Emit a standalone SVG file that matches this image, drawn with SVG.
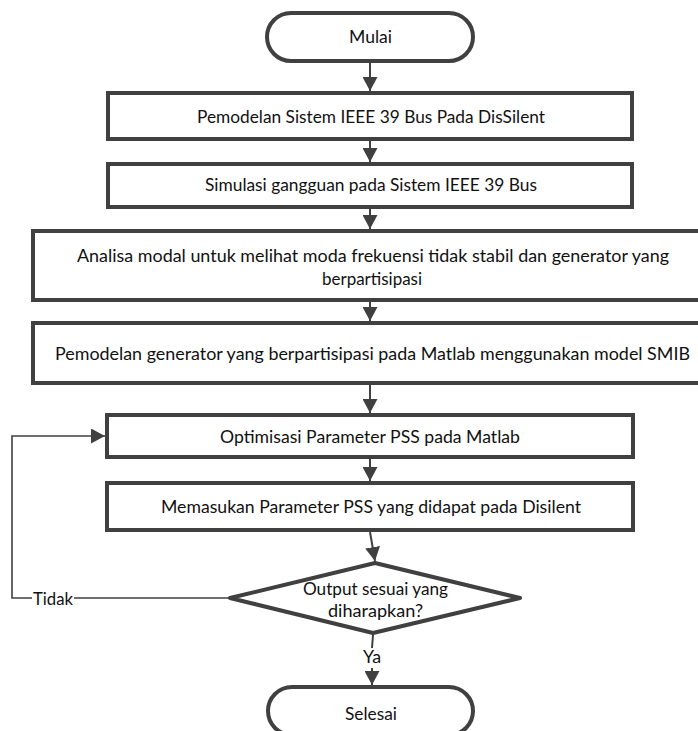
<svg xmlns="http://www.w3.org/2000/svg" width="698" height="731" viewBox="0 0 698 731">
<style>
.b{fill:#fff;stroke:#404040;stroke-width:4}
.t{font-family:Lato,"Liberation Sans",sans-serif;font-size:17px;fill:#111;text-anchor:middle}
.c{fill:none;stroke:#404040;stroke-width:2}
.l{fill:none;stroke:#404040;stroke-width:1.6}
</style>
<defs>
<marker id="a" markerUnits="userSpaceOnUse" markerWidth="14" markerHeight="15" viewBox="0 0 14 15" refX="14" refY="7.5" orient="auto">
<path d="M0,0 L14,7.5 L0,15 z" fill="#404040"/>
</marker>
</defs>
<rect width="698" height="731" fill="#fff"/>
<g id="connectors">
<line class="c" x1="370" y1="62" x2="370" y2="91" marker-end="url(#a)"/>
<line class="c" x1="370" y1="141" x2="370" y2="162" marker-end="url(#a)"/>
<line class="c" x1="370" y1="209" x2="370" y2="229" marker-end="url(#a)"/>
<line class="c" x1="370" y1="302" x2="370" y2="321" marker-end="url(#a)"/>
<line class="c" x1="370" y1="385" x2="370" y2="413" marker-end="url(#a)"/>
<line class="c" x1="370" y1="459" x2="370" y2="481" marker-end="url(#a)"/>
<line class="c" x1="370" y1="532" x2="375" y2="561" marker-end="url(#a)"/>
<line class="c" x1="373" y1="635" x2="372" y2="648"/>
<line class="c" x1="372" y1="668" x2="372" y2="685" marker-end="url(#a)"/>
<line class="l" x1="230" y1="598" x2="74" y2="598"/>
<polyline class="l" points="32,598 12,598 12,436 105,436" marker-end="url(#a)"/>
<text class="t" x="53" y="605" textLength="40" lengthAdjust="spacingAndGlyphs">Tidak</text>
<text class="t" x="372" y="663" textLength="18" lengthAdjust="spacingAndGlyphs">Ya</text>
</g>
<g id="mulai">
<rect class="b" x="267" y="13" width="206" height="48" rx="24"/>
<text class="t" x="370.5" y="43" textLength="43" lengthAdjust="spacingAndGlyphs">Mulai</text>
</g>
<g id="box1">
<rect class="b" x="108" y="93" width="524" height="46"/>
<text class="t" x="371" y="122.5" textLength="348" lengthAdjust="spacingAndGlyphs">Pemodelan Sistem IEEE 39 Bus Pada DisSilent</text>
</g>
<g id="box2">
<rect class="b" x="108" y="164" width="524" height="43"/>
<text class="t" x="371" y="191" textLength="332" lengthAdjust="spacingAndGlyphs">Simulasi gangguan pada Sistem IEEE 39 Bus</text>
</g>
<g id="box3">
<rect class="b" x="33" y="231" width="676" height="69"/>
<text class="t" x="373" y="262" textLength="592" lengthAdjust="spacingAndGlyphs">Analisa modal untuk melihat moda frekuensi tidak stabil dan generator yang</text>
<text class="t" x="372" y="285" textLength="100" lengthAdjust="spacingAndGlyphs">berpartisipasi</text>
</g>
<g id="box4">
<rect class="b" x="33" y="323" width="676" height="60"/>
<text class="t" x="372.5" y="360" textLength="635" lengthAdjust="spacingAndGlyphs">Pemodelan generator yang berpartisipasi pada Matlab menggunakan model SMIB</text>
</g>
<g id="box5">
<rect class="b" x="107" y="415" width="526" height="42"/>
<text class="t" x="370" y="443" textLength="300" lengthAdjust="spacingAndGlyphs">Optimisasi Parameter PSS pada Matlab</text>
</g>
<g id="box6">
<rect class="b" x="107" y="483" width="526" height="47"/>
<text class="t" x="371" y="513" textLength="420" lengthAdjust="spacingAndGlyphs">Memasukan Parameter PSS yang didapat pada Disilent</text>
</g>
<g id="decision">
<polygon class="b" points="375,563 520,598 373,633 230,598" stroke-linejoin="round"/>
<text class="t" x="375.5" y="595" textLength="145" lengthAdjust="spacingAndGlyphs">Output sesuai yang</text>
<text class="t" x="375.5" y="617" textLength="95" lengthAdjust="spacingAndGlyphs">diharapkan?</text>
</g>
<g id="selesai">
<rect class="b" x="268" y="687" width="205" height="48" rx="24"/>
<text class="t" x="371" y="720" textLength="52" lengthAdjust="spacingAndGlyphs">Selesai</text>
</g>
</svg>
